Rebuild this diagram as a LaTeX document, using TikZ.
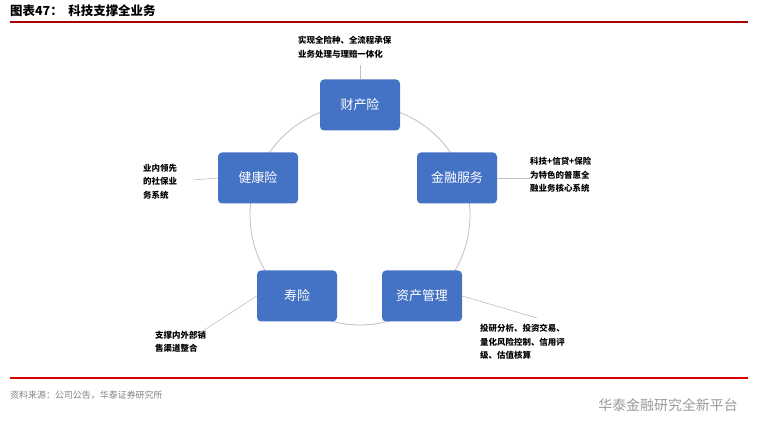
\documentclass[tikz,border=0pt]{standalone}
\usepackage{fontspec}
\newfontfamily\cjk{Noto Sans CJK SC}
\begin{document}
\begin{tikzpicture}[x=1bp,y=-1bp,
 box/.style={draw=none,fill=boxblue,rounded corners=4bp,minimum width=80bp,minimum height=51bp,text=white,font=\cjk\fontsize{13}{15}\selectfont},
 lbl/.style={align=left,anchor=north west,inner sep=0,font=\cjk\bfseries\fontsize{8.5}{13.5}\selectfont},
 ln/.style={draw=gray!50,line width=0.6bp}]
\definecolor{boxblue}{RGB}{68,114,196}
\useasboundingbox (0,0) rectangle (757,437);
\node[anchor=west,inner sep=0,font=\cjk\bfseries\fontsize{12.5}{14}\selectfont] (title) at (10,11) {图表47：\ \ 科技支撑全业务};
\draw[red!65!black,line width=1.5bp] (10,22) -- (748,22);
\draw[red!85!black,line width=1.5bp] (10,378) -- (748,378);
\node[anchor=west,inner sep=0,text=gray,font=\cjk\fontsize{9}{10}\selectfont] (src) at (10,395) {资料来源：公司公告，华泰证券研究所};
\node[anchor=east,inner sep=0,text=gray!80,font=\cjk\fontsize{14}{16}\selectfont] (wm) at (738,405) {华泰金融研究全新平台};
\draw[ln,line width=0.8bp] (360,215) circle (110);
\node[box] (ccx) at (360,105) {财产险};
\node[box] (jr) at (457,178) {金融服务};
\node[box] (zc) at (422,296) {资产管理};
\node[box] (sx) at (297,296) {寿险};
\node[box] (jk) at (258,178) {健康险};
\node[lbl] (t1) at (298,36) {实现全险种、全流程承保\\业务处理与理赔一体化};
\node[lbl] (t2) at (530,157) {科技+信贷+保险\\为特色的普惠全\\融业务核心系统};
\node[lbl] (t3) at (143,164) {业内领先\\的社保业\\务系统};
\node[lbl] (t4) at (155,331) {支撑内外部销\\售渠道整合};
\node[lbl] (t5) at (480,324) {投研分析、投资交易、\\量化风险控制、信用评\\级、估值核算};
\coordinate (c1) at (360,65); \coordinate (c2) at (530,178);
\coordinate (c3) at (193,180); \coordinate (c4) at (192,338);
\coordinate (c5) at (537,318);
\draw[ln] (c1) -- (ccx.north);
\draw[ln] (jr.east) -- (c2);
\draw[ln] (jk.west) -- (c3);
\draw[ln] (sx.west) -- (c4);
\draw[ln] (zc.east) -- (c5);
\end{tikzpicture}
\end{document}
